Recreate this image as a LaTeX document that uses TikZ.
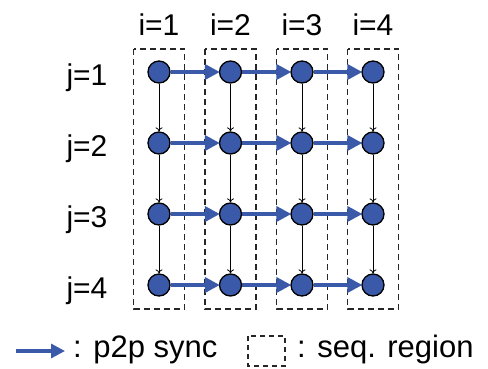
\documentclass[tikz,border=0pt]{standalone}
\usepackage{fontspec}
\setmainfont{Liberation Sans}
\usetikzlibrary{arrows.meta}
\definecolor{nodeblue}{RGB}{59,89,169}
\begin{document}
\begin{tikzpicture}[x=1pt,y=-1pt,
  cell/.style={circle,draw=black,line width=1.3pt,fill=nodeblue,minimum size=22pt,inner sep=0pt},
  sync/.style={draw=nodeblue,line width=4pt,-{Triangle[length=15pt,width=15pt]},shorten >=-1pt},
  dep/.style={draw=black,line width=0.8pt,-{To[length=4pt,width=7pt]}},
  region/.style={draw=black!85,line width=1.4pt,dash pattern=on 6pt off 4pt},
  lbl/.style={font=\fontsize{30}{32}\selectfont,inner sep=0pt,anchor=base},
  legendtext/.style={font=\fontsize{31}{33}\selectfont,inner sep=0pt,anchor=base west}]
\useasboundingbox (0,0) rectangle (488,368);
% sequential regions (one per column)
\foreach \c/\x in {1/159,2/230.5,3/302,4/373}{
  \draw[region] (\x-25.5,49) rectangle (\x+25.5,309);
  \node[lbl] (i\c) at (\x,35) {i=\c};
}
% grid of cells
\foreach \r/\y in {1/72,2/143,3/214,4/285}{
  \node[lbl] (j\r) at (87,\y+13) {j=\r};
  \foreach \c/\x in {1/159,2/230.5,3/302,4/373}{
    \node[cell] (n\c\r) at (\x,\y) {};
  }
}
% vertical dependencies
\foreach \c in {1,2,3,4}{
  \foreach \r/\s in {1/2,2/3,3/4}{
    \draw[dep] (n\c\r) -- (n\c\s);
  }
}
% point-to-point synchronisation
\foreach \r in {1,2,3,4}{
  \foreach \c/\d in {1/2,2/3,3/4}{
    \draw[sync] (n\c\r) -- (n\d\r);
  }
}
% legend
\coordinate (la) at (16,351);
\coordinate (lb) at (65,351);
\draw[draw=nodeblue,line width=3.2pt,-{Triangle[length=14pt,width=14pt]}] (la) -- (lb);
\node[legendtext] (lt1) at (73,357) {: p2p sync};
\draw[region,line width=1.2pt,dash pattern=on 5pt off 4pt] (248,336) rectangle (285,366);
\node[legendtext] (lt2) at (297,357) {: seq. region};
\end{tikzpicture}
\end{document}
